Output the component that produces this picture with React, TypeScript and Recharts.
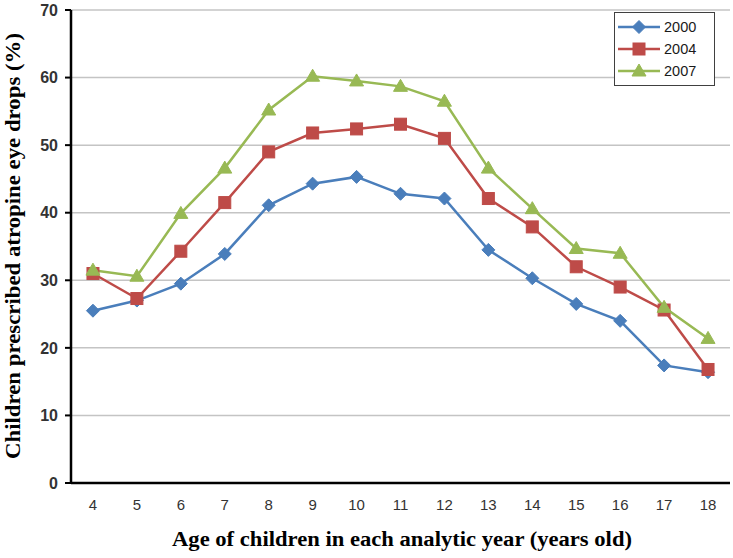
import React from "react";
import {
  LineChart,
  Line,
  XAxis,
  YAxis,
  CartesianGrid,
} from "recharts";

// ages on the x axis (years old)
const ages = [4, 5, 6, 7, 8, 9, 10, 11, 12, 13, 14, 15, 16, 17, 18];

// share of children prescribed atropine eye drops (%)
const pct2000 = [25.5, 27.0, 29.5, 33.9, 41.1, 44.3, 45.3, 42.8, 42.1, 34.5, 30.3, 26.5, 24.0, 17.4, 16.4];
const pct2004 = [31.0, 27.3, 34.3, 41.5, 49.0, 51.8, 52.4, 53.1, 51.0, 42.1, 37.9, 32.0, 29.0, 25.6, 16.8];
const pct2007 = [31.5, 30.6, 39.9, 46.6, 55.2, 60.2, 59.5, 58.7, 56.5, 46.6, 40.6, 34.7, 34.0, 26.0, 21.4];

const yTicks = [0, 10, 20, 30, 40, 50, 60, 70];

const series = [
  { key: "y2000", name: "2000", color: "#4a7ebb", marker: "diamond" },
  { key: "y2004", name: "2004", color: "#be4b48", marker: "square" },
  { key: "y2007", name: "2007", color: "#98b954", marker: "triangle" },
];

const data = ages.map((age, i) => ({
  age,
  y2000: pct2000[i],
  y2004: pct2004[i],
  y2007: pct2007[i],
}));

// tick marks sit between the age categories
const boundaryTicks = [...ages.map((a) => a - 0.5), ages[ages.length - 1] + 0.5];
const xDomain: [number, number] = [ages[0] - 0.5, ages[ages.length - 1] + 0.5];

const tickFont = "'Liberation Sans', Arial, sans-serif";
const titleFont = "'Liberation Serif', 'Times New Roman', serif";

function Marker({ cx, cy, marker, color }: any) {
  if (cx == null || cy == null) return null;
  if (marker === "diamond") {
    const r = 6.5;
    return (
      <polygon
        points={`${cx},${cy - r} ${cx + r},${cy} ${cx},${cy + r} ${cx - r},${cy}`}
        fill={color}
        stroke={color}
      />
    );
  }
  if (marker === "square") {
    const h = 6;
    return <rect x={cx - h} y={cy - h} width={h * 2} height={h * 2} fill={color} stroke={color} />;
  }
  const w = 7;
  return (
    <polygon
      points={`${cx},${cy - 7} ${cx + w},${cy + 5} ${cx - w},${cy + 5}`}
      fill={color}
      stroke={color}
    />
  );
}

function LegendBox() {
  return (
    <div
      style={{
        position: "absolute",
        left: 614,
        top: 12,
        border: "1.5px solid #404040",
        background: "#fff",
        width: 101,
        padding: "3px 0",
        boxSizing: "border-box",
      }}
    >
      {series.map((s) => (
        <div key={s.key} style={{ display: "flex", alignItems: "center", height: 22 }}>
          <svg width={49} height={18}>
            <line x1={3} y1={9} x2={45} y2={9} stroke={s.color} strokeWidth={2.5} />
            <Marker cx={24} cy={9} marker={s.marker} color={s.color} />
          </svg>
          <span style={{ fontFamily: tickFont, fontSize: 14.5, color: "#1a1a1a" }}>{s.name}</span>
        </div>
      ))}
    </div>
  );
}

function YTitle() {
  const x = 13;
  const cy = 246;
  return (
    <text
      x={x}
      y={cy}
      transform={`rotate(-90 ${x} ${cy})`}
      textAnchor="middle"
      dominantBaseline="central"
      fontFamily={titleFont}
      fontWeight="bold"
      fontSize={20}
      textLength={426}
      lengthAdjust="spacingAndGlyphs"
      fill="#000"
    >
      Children prescribed atropine eye drops (%)
    </text>
  );
}

function XTitle(props: any) {
  const vb = props.viewBox || {};
  return (
    <text
      x={402}
      y={vb.y + 57}
      textAnchor="middle"
      fontFamily={titleFont}
      fontWeight="bold"
      fontSize={20}
      textLength={460}
      lengthAdjust="spacingAndGlyphs"
      fill="#000"
    >
      Age of children in each analytic year (years old)
    </text>
  );
}

export default function App() {
  return (
    <div style={{ position: "absolute", left: 0, top: 0, width: 733, height: 558, background: "#fff" }}>
      <LineChart
        width={733}
        height={558}
        data={data}
        margin={{ top: 10, right: 3, left: 0, bottom: 0 }}
      >
        <CartesianGrid vertical={false} stroke="#c4c4c4" strokeWidth={1.5} />
        <XAxis
          dataKey="age"
          type="number"
          domain={xDomain}
          ticks={boundaryTicks}
          allowDataOverflow
          tick={false}
          height={6}
          tickSize={6}
          axisLine={{ stroke: "#000", strokeWidth: 2.5 }}
          tickLine={{ stroke: "#000", strokeWidth: 2 }}
        />
        <XAxis
          xAxisId="labels"
          dataKey="age"
          type="number"
          domain={xDomain}
          ticks={ages}
          allowDataOverflow
          interval={0}
          height={69}
          tickSize={0}
          tickMargin={10}
          axisLine={false}
          tickLine={false}
          tick={{ fontFamily: tickFont, fontSize: 15, fill: "#333" }}
          label={{ content: XTitle }}
        />
        <YAxis
          domain={[0, 70]}
          ticks={yTicks}
          interval={0}
          width={71}
          tickSize={6}
          tickMargin={7}
          axisLine={{ stroke: "#000", strokeWidth: 2.5 }}
          tickLine={{ stroke: "#000", strokeWidth: 2 }}
          tick={{ fontFamily: tickFont, fontSize: 16, fontWeight: 600, fill: "#333" }}
          label={{ content: YTitle }}
        />
        {series.map((s) => (
          <Line
            key={s.key}
            dataKey={s.key}
            name={s.name}
            stroke={s.color}
            strokeWidth={2.5}
            isAnimationActive={false}
            dot={(p: any) => <Marker key={`${s.key}-${p.index}`} cx={p.cx} cy={p.cy} marker={s.marker} color={s.color} />}
            activeDot={false}
          />
        ))}
      </LineChart>
      <LegendBox />
    </div>
  );
}
